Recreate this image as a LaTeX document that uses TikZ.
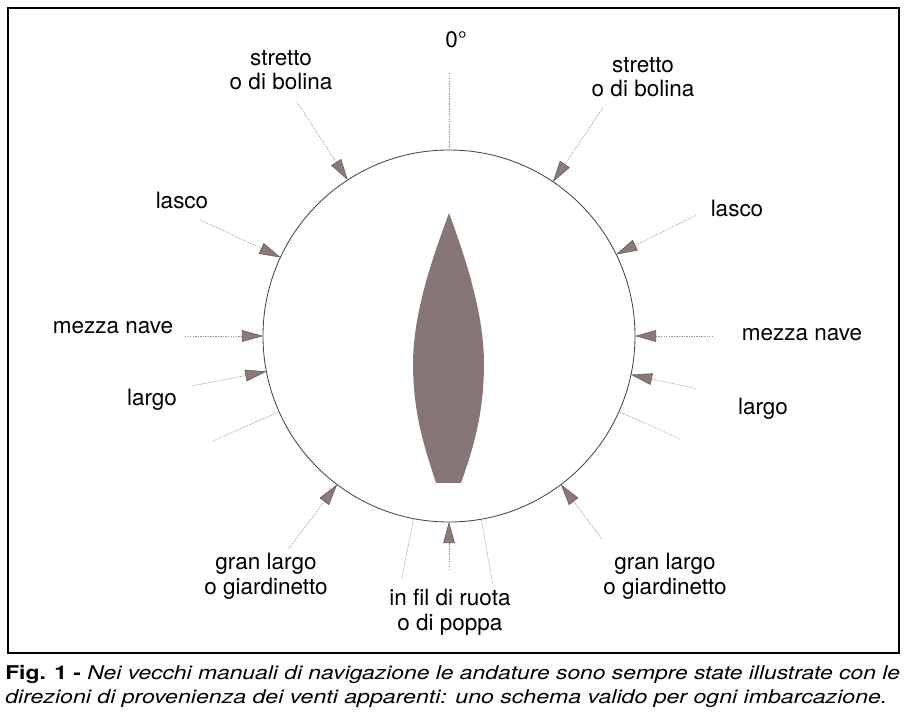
\documentclass[tikz,border=0pt]{standalone}
\usepackage{fontspec}
\setmainfont{TeX Gyre Heros}
\usepackage{graphicx}
\usetikzlibrary{positioning}
\usetikzlibrary{calc}
\usetikzlibrary{arrows.meta}
\definecolor{hullgray}{RGB}{136,118,118}
\definecolor{tipfill}{RGB}{140,122,120}
\definecolor{tipedge}{RGB}{85,72,72}
\definecolor{windgray}{RGB}{150,150,150}
\definecolor{rimgray}{RGB}{70,70,70}
\tikzset{
	windline/.style={draw=windgray, line width=0.4pt, dash pattern=on 1pt off 0.8pt},
	windarrow/.style={windline, -{Triangle[length=5.3mm, width=2.9mm, fill=tipfill, color=tipedge, line width=0.3pt]}},
	andatura/.style={font=\fontsize{16}{17.5}\selectfont, align=center, inner sep=0pt},
}

\begin{document}
\begin{tikzpicture}[x=0.25mm, y=0.25mm]
	\useasboundingbox (0,0) rectangle (912,719);
	\draw[line width=0.9pt] (8,66) rectangle (899,711);
	
	\node at (449,383) (rosa) [circle, draw=rimgray, line width=0.6pt, minimum size=93mm, inner sep=0pt, outer sep=0pt] {};
	
	% scafo
	\fill[hullgray] (449,506) .. controls (436,470) and (413,410) .. (413,355)
		.. controls (413,300) and (428,262) .. (436,236) -- (461,236)
		.. controls (470,262) and (484,300) .. (484,355)
		.. controls (484,410) and (462,470) .. (449,506) -- cycle;
	
	% venti
	\coordinate (prua) at ([shift={(90:263)}]rosa.center);
	\coordinate (strettoL) at ([shift={(123:279)}]rosa.center);
	\coordinate (strettoR) at ([shift={(56:275)}]rosa.center);
	\coordinate (lascoL) at ([shift={(155:275)}]rosa.center);
	\coordinate (lascoR) at ([shift={(26:275)}]rosa.center);
	\coordinate (mezzaL) at ([shift={(180:264)}]rosa.center);
	\coordinate (mezzaR) at ([shift={(0:264)}]rosa.center);
	\coordinate (largoL) at ([shift={(191:261)}]rosa.center);
	\coordinate (largoR) at ([shift={(-12:252)}]rosa.center);
	\coordinate (lineaL) at ([shift={(204:259)}]rosa.center);
	\coordinate (lineaR) at ([shift={(-24:252)}]rosa.center);
	\coordinate (granL) at ([shift={(233:266)}]rosa.center);
	\coordinate (granR) at ([shift={(-53:254)}]rosa.center);
	\coordinate (poppaL) at ([shift={(259:248)}]rosa.center);
	\coordinate (poppaR) at ([shift={(280:251)}]rosa.center);
	\coordinate (poppa) at ([shift={(270:234)}]rosa.center);
	
	\draw[windline] (prua) -- (rosa.90);
	\draw[windarrow] (strettoL) -- (rosa.123);
	\draw[windarrow] (strettoR) -- (rosa.56);
	\draw[windarrow] (lascoL) -- (rosa.155);
	\draw[windarrow] (lascoR) -- (rosa.26);
	\draw[windarrow] (mezzaL) -- (rosa.180);
	\draw[windarrow] (mezzaR) -- (rosa.0);
	\draw[windarrow] (largoL) -- (rosa.191);
	\draw[windarrow] (largoR) -- (rosa.-12);
	\draw[windline] (lineaL) -- (rosa.204);
	\draw[windline] (lineaR) -- (rosa.-24);
	\draw[windarrow] (granL) -- (rosa.233);
	\draw[windarrow] (granR) -- (rosa.-53);
	\draw[windline] (poppaL) -- (rosa.259);
	\draw[windline] (poppaR) -- (rosa.280);
	\draw[windarrow] (poppa) -- (rosa.270);
	
	% nomi
	\node at (456,679) (zero) [andatura] {0°};
	\node at (281,649) (strettoLtxt) [andatura] {stretto\\o di bolina};
	\node at (643,642) (strettoRtxt) [andatura] {stretto\\o di bolina};
	\node at (182,519) (lascoLtxt) [andatura] {lasco};
	\node at (737,511) (lascoRtxt) [andatura] {lasco};
	\node at (113,391) (mezzaLtxt) [andatura] {mezza nave};
	\node at (802,384) (mezzaRtxt) [andatura] {mezza nave};
	\node at (152,319) (largoLtxt) [andatura] {largo};
	\node at (763,310) (largoRtxt) [andatura] {largo};
	\node at (266,143) (granLtxt) [andatura] {gran largo\\o giardinetto};
	\node at (665,143) (granRtxt) [andatura] {gran largo\\o giardinetto};
	\node at (450,107) (poppatxt) [andatura] {in fil di ruota\\o di poppa};
	
	% didascalia
	\node at (5,39) (didasc1) [anchor=base west, inner sep=0pt] {\resizebox{223.7mm}{\height}{\fontsize{13.5}{16}\selectfont\textbf{Fig. 1 -} \textit{Nei vecchi manuali di navigazione le andature sono sempre state illustrate con le}}};
	\node at (5,16) (didasc2) [anchor=base west, inner sep=0pt] {\resizebox{220.5mm}{\height}{\fontsize{13.5}{16}\selectfont\textit{direzioni di provenienza dei venti apparenti: uno schema valido per ogni imbarcazione.}}};
\end{tikzpicture}
\end{document}
